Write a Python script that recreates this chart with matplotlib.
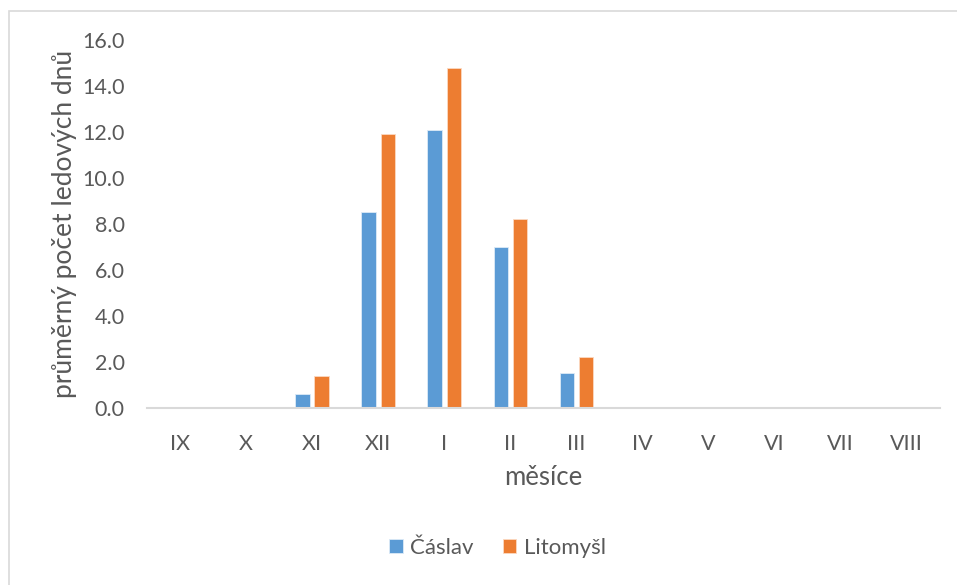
import numpy as np
import matplotlib.pyplot as plt
import matplotlib.patches as patches

# average number of ice days per month
months = ["IX", "X", "XI", "XII", "I", "II", "III", "IV", "V", "VI", "VII", "VIII"]
caslav = [0, 0, 0.6, 8.5, 12.1, 7.0, 1.5, 0, 0, 0, 0, 0]
litomysl = [0, 0, 1.4, 11.9, 14.8, 8.2, 2.2, 0, 0, 0, 0, 0]
series_names = ["Čáslav", "Litomyšl"]
yticks = [0, 2, 4, 6, 8, 10, 12, 14, 16]

plt.rcParams['font.family'] = ['Lato', 'DejaVu Sans']
txt = "#595959"

fig = plt.figure(figsize=(9.57, 5.85), dpi=100)
ax = fig.add_axes([0.1536, 0.3026, 0.8284, 0.629])

x = np.arange(len(months))
w = 0.22
off = 0.145
ax.bar(x - off, caslav, w, color="#5B9BD5", edgecolor="#dceaf7", lw=0.6, label=series_names[0])
ax.bar(x + off, litomysl, w, color="#ED7D31", edgecolor="#fbd9c2", lw=0.6, label=series_names[1])

ax.set_xlim(-0.5, len(months) - 0.5)
ax.set_ylim(0, 16)
ax.set_yticks(yticks)
ax.set_yticklabels([f"{v:.1f}" for v in yticks])
ax.set_xticks(x)
ax.set_xticklabels(months)
ax.tick_params(axis='y', length=0, pad=16, labelsize=15.5, labelcolor=txt)
ax.tick_params(axis='x', length=0, pad=19, labelsize=15.5, labelcolor=txt)

for s in ["top", "right", "left"]:
    ax.spines[s].set_visible(False)
ax.spines["bottom"].set_color("#d9d9d9")
ax.spines["bottom"].set_linewidth(1.5)

ax.set_xlabel("měsíce", fontsize=18.5, color=txt, labelpad=8)
ax.set_ylabel("průměrný počet ledových dnů", fontsize=19, color=txt, labelpad=4)

leg = fig.legend(loc="center", bbox_to_anchor=(0.52, 0.063), ncol=2, frameon=False,
                 fontsize=16, handlelength=0.6, handleheight=0.6, handletextpad=0.35,
                 columnspacing=1.3)
for t in leg.get_texts():
    t.set_color(txt)

# chart area border
fig.add_artist(patches.Rectangle((9 / 957, -0.01), 1.0, 1 - 11 / 585 + 0.01,
                                 transform=fig.transFigure, fill=False,
                                 ec="#d9d9d9", lw=1.2))

fig.savefig("out.png", dpi=100)
